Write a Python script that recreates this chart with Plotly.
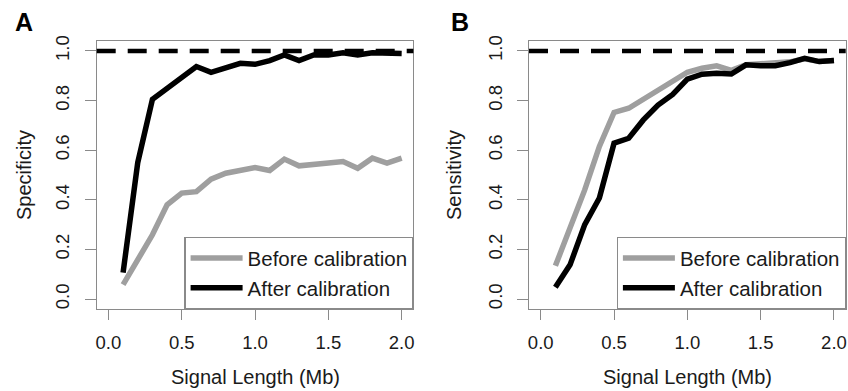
import plotly.graph_objects as go

# ---------------- data ----------------
signal_length_mb = [0.1, 0.2, 0.3, 0.4, 0.5, 0.6, 0.7, 0.8, 0.9, 1.0,
                    1.1, 1.2, 1.3, 1.4, 1.5, 1.6, 1.7, 1.8, 1.9, 2.0]

specificity_before = [0.058, 0.155, 0.259, 0.380, 0.427, 0.433, 0.483, 0.507, 0.518, 0.530,
                      0.518, 0.564, 0.537, 0.540, 0.548, 0.554, 0.527, 0.568, 0.548, 0.568]
specificity_after = [0.107, 0.550, 0.805, 0.850, 0.890, 0.937, 0.914, 0.934, 0.950, 0.946,
                     0.961, 0.984, 0.961, 0.984, 0.984, 0.993, 0.984, 0.993, 0.993, 0.990]

sensitivity_before = [0.134, 0.285, 0.440, 0.615, 0.752, 0.769, 0.805, 0.843, 0.880, 0.914,
                      0.930, 0.940, 0.922, 0.944, 0.948, 0.950, 0.956, 0.968, 0.957, 0.961]
sensitivity_after = [0.048, 0.138, 0.300, 0.407, 0.628, 0.648, 0.722, 0.782, 0.825, 0.886,
                     0.906, 0.910, 0.907, 0.944, 0.940, 0.940, 0.953, 0.970, 0.957, 0.961]

reference_level = 1.0

series_names = ["Before calibration", "After calibration"]
x_tick_vals = [0.0, 0.5, 1.0, 1.5, 2.0]
x_tick_text = ["0.0", "0.5", "1.0", "1.5", "2.0"]
y_tick_vals = [0.0, 0.2, 0.4, 0.6, 0.8, 1.0]
y_tick_text = ["0.0", "0.2", "0.4", "0.6", "0.8", "1.0"]
panel_labels = ["A", "B"]
y_titles = ["Specificity", "Sensitivity"]
x_title = "Signal Length (Mb)"

# ---------------- figure ----------------
W, H = 848, 391
FONT = "Liberation Sans, Arial, Helvetica, sans-serif"
GRAY = "#9f9f9f"
BOX = "#8a8a8a"

fig = go.Figure()

panels = [
    (specificity_before, specificity_after, "x", "y", "legend"),
    (sensitivity_before, sensitivity_after, "x2", "y2", "legend2"),
]
for before, after, xa, ya, lg in panels:
    fig.add_trace(go.Scatter(x=signal_length_mb, y=before, mode="lines", name=series_names[0],
                             line=dict(color=GRAY, width=5.5), xaxis=xa, yaxis=ya, legend=lg))
    fig.add_trace(go.Scatter(x=signal_length_mb, y=after, mode="lines", name=series_names[1],
                             line=dict(color="#000000", width=5.5), xaxis=xa, yaxis=ya, legend=lg))

x_domains = [[96.7 / W, 413.4 / W], [529.0 / W, 845.7 / W]]
y_domain = [1 - 309 / H, 1 - 41 / H]

axis_common = dict(showgrid=False, zeroline=False, showline=True, linecolor=BOX, linewidth=1.2,
                   mirror=True, ticks="outside", tickcolor=BOX, tickwidth=1.2, automargin=False,
                   tickfont=dict(family=FONT, size=18.5, color="#1a1a1a"))

for i, xd in enumerate(x_domains):
    sx = "" if i == 0 else str(i + 1)
    fig.update_layout(**{
        "xaxis" + sx: dict(axis_common, domain=xd, range=[-0.08, 2.08], tickvals=x_tick_vals,
                           ticktext=x_tick_text, ticklen=10, ticklabelstandoff=7,
                           anchor="y" + sx),
        "yaxis" + sx: dict(axis_common, domain=y_domain, range=[-0.04, 1.04], tickvals=y_tick_vals,
                           ticktext=y_tick_text, ticklen=11, tickangle=-90,
                           ticklabelstandoff=8, anchor="x" + sx),
    })
    fig.add_shape(type="line", xref="x" + sx + " domain", yref="y" + sx, x0=0, x1=1,
                  y0=reference_level, y1=reference_level,
                  line=dict(color="#000000", width=4.5, dash="19px,12px"), layer="above")
    legend_cfg = dict(x=xd[1], y=y_domain[0], xanchor="right", yanchor="bottom",
                      bgcolor="#ffffff", bordercolor=BOX, borderwidth=1.2,
                      font=dict(family=FONT, size=20.5, color="#1a1a1a"),
                      itemwidth=52, tracegroupgap=0)
    fig.update_layout(**{"legend" + sx: legend_cfg})
    xc = (xd[0] + xd[1]) / 2
    fig.add_annotation(text=x_title, xref="paper", yref="paper", x=xc, y=1 - 376.7 / H,
                       showarrow=False, font=dict(family=FONT, size=20, color="#1a1a1a"),
                       xanchor="center", yanchor="middle")
    fig.add_annotation(text=y_titles[i], xref="paper", yref="paper",
                       x=(24 if i == 0 else 454) / W, y=(y_domain[0] + y_domain[1]) / 2,
                       showarrow=False, textangle=-90,
                       font=dict(family=FONT, size=20, color="#1a1a1a"),
                       xanchor="center", yanchor="middle")
    fig.add_annotation(text="<b>" + panel_labels[i] + "</b>", xref="paper", yref="paper",
                       x=(24 if i == 0 else 460) / W, y=1 - 22 / H, showarrow=False,
                       font=dict(family=FONT, size=25, color="#000000"),
                       xanchor="center", yanchor="middle")

fig.update_layout(width=W, height=H, margin=dict(l=0, r=0, t=0, b=0),
                  paper_bgcolor="#ffffff", plot_bgcolor="#ffffff", showlegend=True)

fig.write_html("out.html", config={"displayModeBar": False},
               post_script="document.body.style.margin='0';document.body.style.overflow='hidden';")
